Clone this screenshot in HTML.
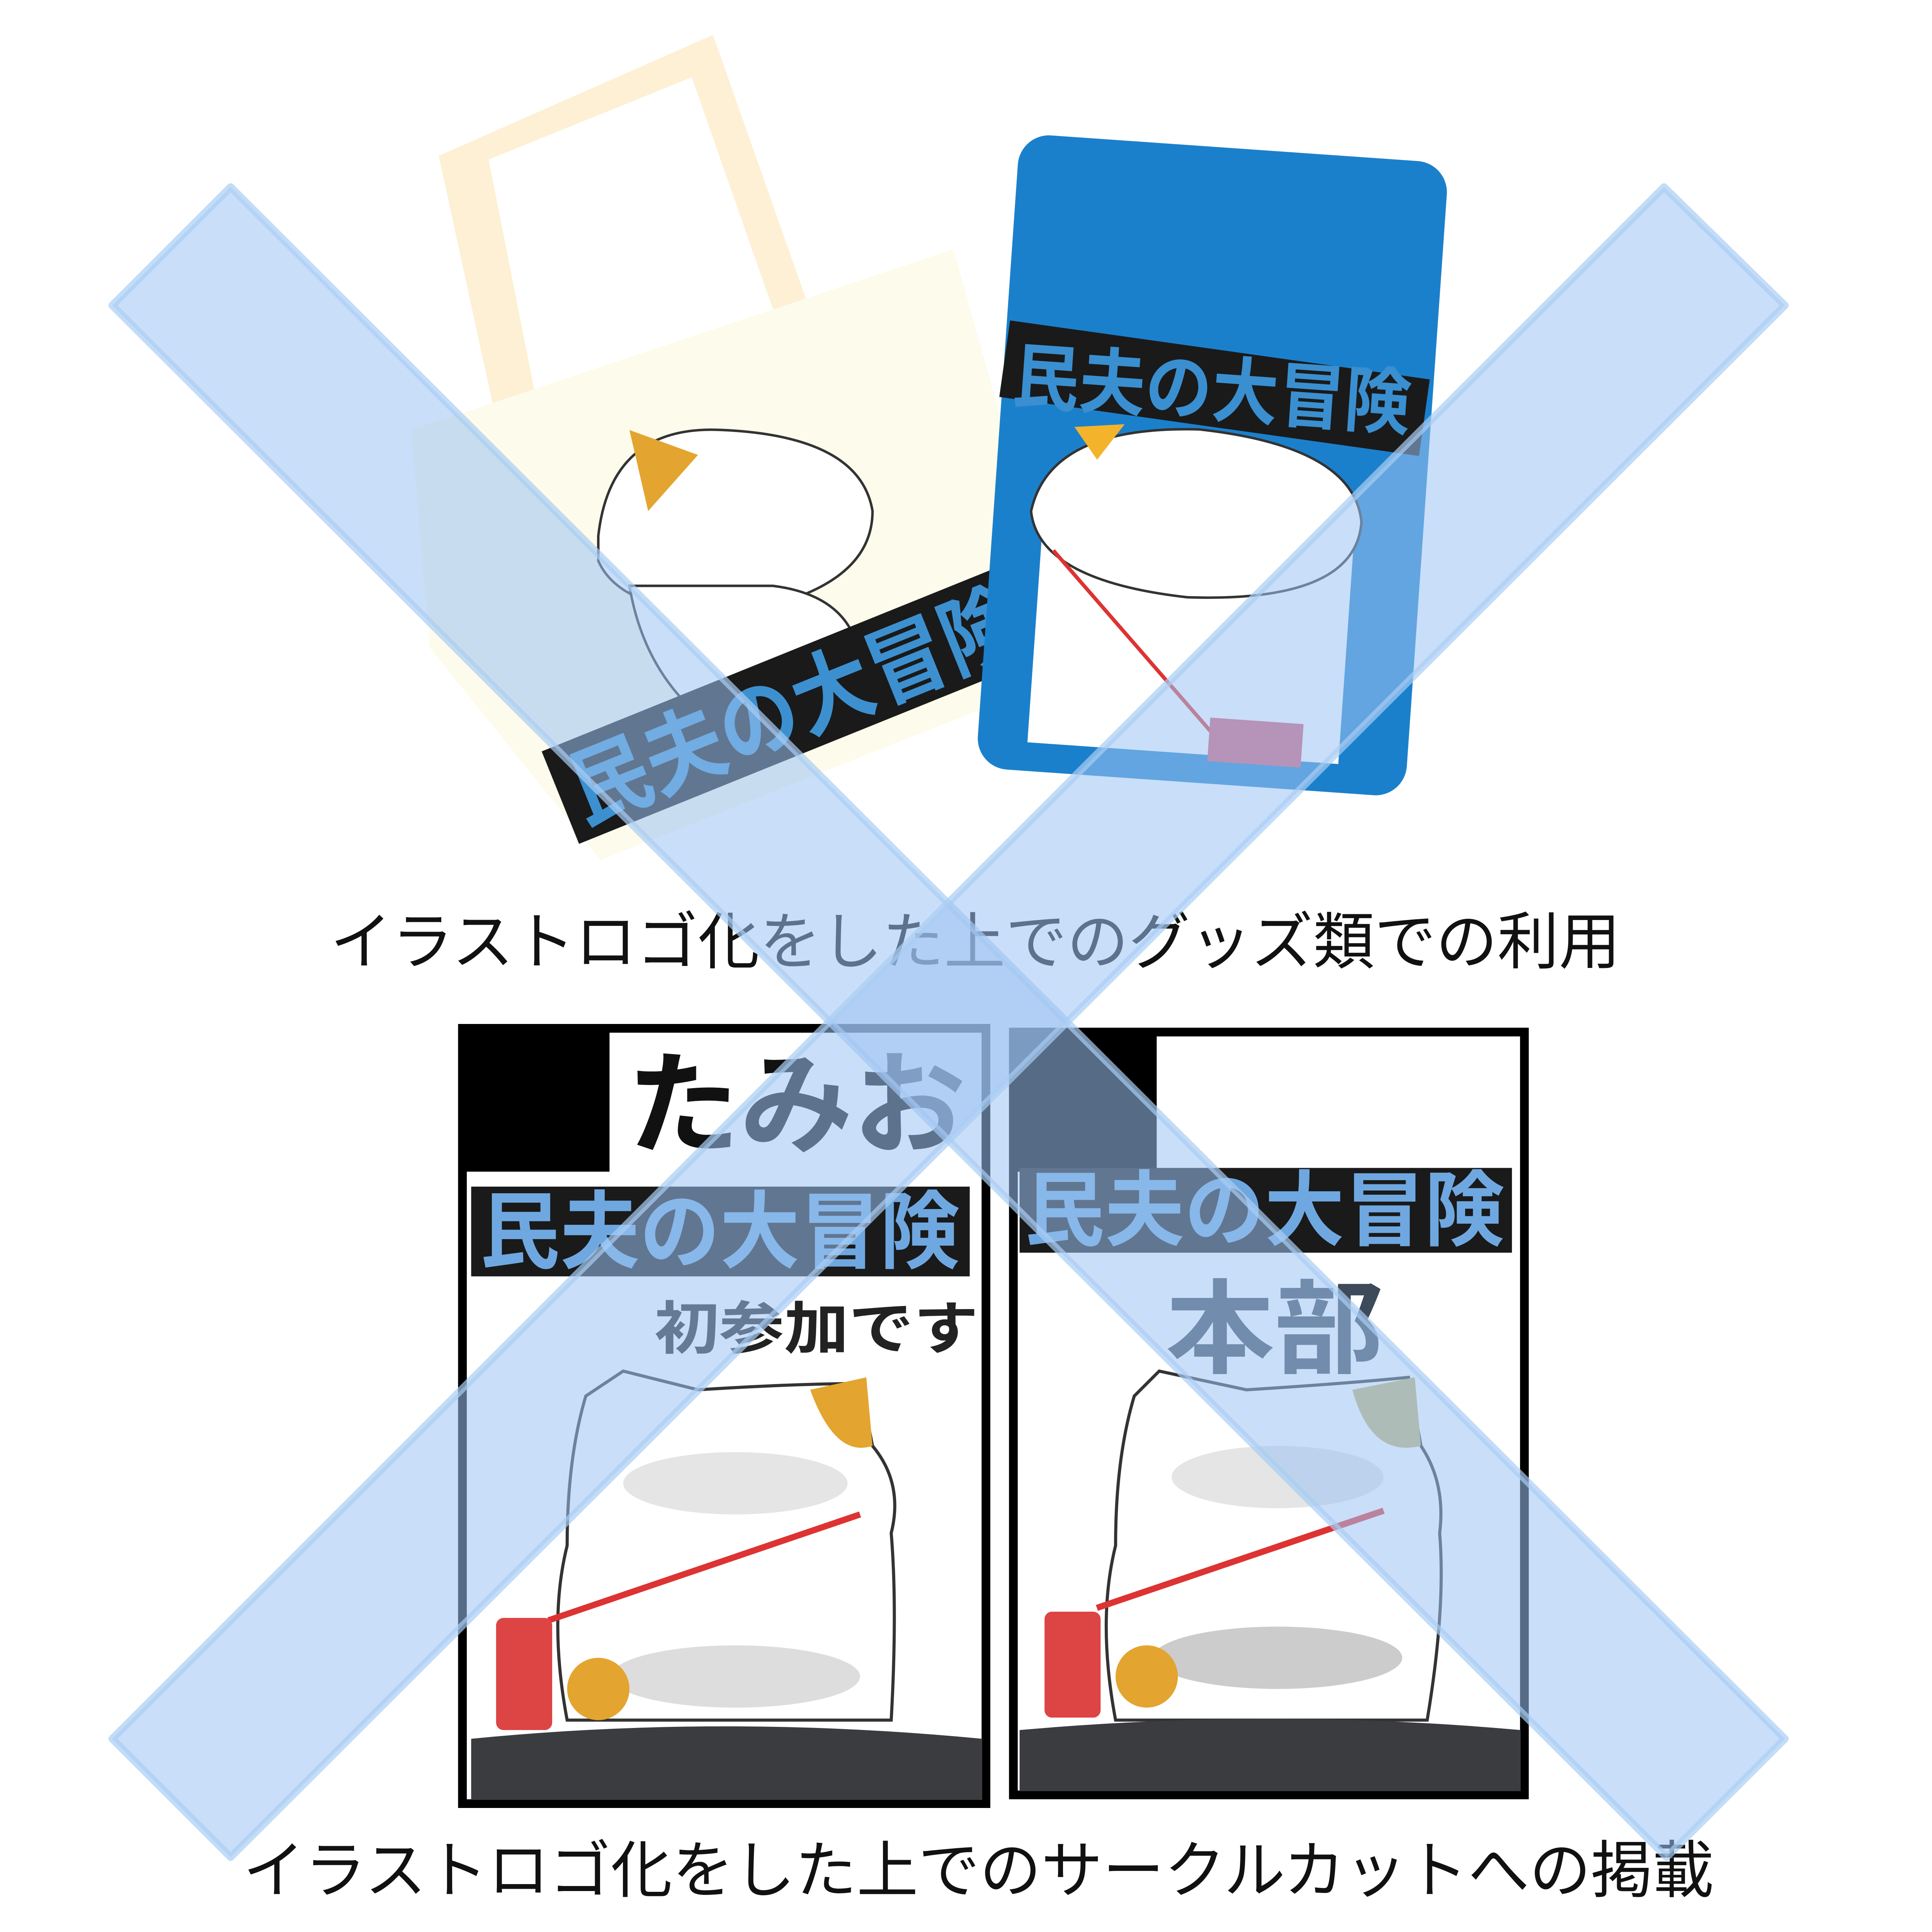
<!DOCTYPE html>
<html><head><meta charset="utf-8"><style>
html,body{margin:0;padding:0;background:#fff;overflow:hidden;}
svg{display:block;width:100vw;height:100vw}
text{font-family:"Liberation Sans","Noto Sans CJK JP",sans-serif;}
</style></head><body>
<svg viewBox="0 0 1550 1550" preserveAspectRatio="xMinYMin meet" xmlns="http://www.w3.org/2000/svg">
<rect width="1550" height="1550" fill="#fff"/>
<!-- Tote bag -->
<g>
<polygon points="352,125 572,28 652,255 625,262 555,62 392,128 435,345 402,355" fill="#fdf0d4"/>
<polygon points="330,345 765,200 860,540 482,690 345,520" fill="#fdfbeb"/>
<path d="M480,430 Q490,340 580,345 Q690,350 700,410 Q700,470 600,490 Q500,495 480,450Z" fill="#fff" stroke="#333" stroke-width="2"/>
<path d="M505,345 L560,365 L520,410Z" fill="#e3a52f"/>
<path d="M505,470 Q520,560 600,600 L690,560 Q700,480 620,470Z" fill="#fff" stroke="#333" stroke-width="2"/>
<g transform="rotate(-22 635 565)">
<rect x="435" y="525" width="405" height="80" fill="#1a1a1a"/>
<text x="445" y="592" font-size="70" font-weight="bold" fill="#3d90cf" textLength="385" lengthAdjust="spacingAndGlyphs">民夫の大冒険</text>
</g>
</g>
<!-- Blue folder -->
<g transform="rotate(4 968 375)">
<rect x="800" y="118" width="345" height="510" rx="25" fill="#1b80cc"/>
<rect x="840" y="400" width="250" height="205" fill="#fff"/>
<path d="M830,420 Q840,350 960,345 Q1085,350 1095,410 Q1095,475 960,480 Q840,475 830,420Z" fill="#fff" stroke="#333" stroke-width="2"/>
<path d="M860,350 L900,345 L880,375Z" fill="#f3b42c"/>
<path d="M850,450 L1000,600" stroke="#d33" stroke-width="3"/>
<rect x="985" y="575" width="75" height="35" fill="#d65a72"/>
<rect x="800" y="280" width="340" height="62" fill="#1a1a1a" transform="rotate(4 968 310)"/>
<text x="808" y="333" font-size="58" font-weight="bold" fill="#3a8fd0" textLength="320" lengthAdjust="spacingAndGlyphs">民夫の大冒険</text>
</g>
<!-- Caption 1 -->
<text x="265" y="773" font-size="50" fill="#111" textLength="1035" lengthAdjust="spacingAndGlyphs">イラストロゴ化をした上でのグッズ類での利用</text>
<!-- Panel 1 -->
<g>
<rect x="371" y="825" width="420" height="622" fill="#fff" stroke="#000" stroke-width="7"/>
<rect x="371" y="825" width="118" height="115" fill="#000"/>
<text x="503" y="918" font-size="90" font-weight="bold" fill="#111" textLength="272" lengthAdjust="spacingAndGlyphs">たみお</text>
<rect x="378" y="952" width="400" height="72" fill="#1a1a1a"/>
<text x="385" y="1012" font-size="68" font-weight="bold" fill="#6fa8e0" textLength="385" lengthAdjust="spacingAndGlyphs">民夫の大冒険</text>
<text x="525" y="1082" font-size="46" font-weight="bold" fill="#222" textLength="260" lengthAdjust="spacingAndGlyphs">初参加です</text>
<path d="M470,1120 L500,1100 L560,1115 Q640,1110 690,1110 L700,1160 Q725,1190 715,1230 Q720,1290 715,1380 L455,1380 Q440,1300 455,1240 Q455,1170 470,1120Z" fill="#fff" stroke="#333" stroke-width="2.5"/>
<path d="M650,1115 L695,1105 L700,1160 Q670,1170 650,1115Z" fill="#e3a52f"/>
<ellipse cx="590" cy="1190" rx="90" ry="25" fill="#e5e5e5"/>
<ellipse cx="590" cy="1345" rx="100" ry="25" fill="#ddd"/>
<path d="M440,1300 L690,1215" stroke="#d33" stroke-width="5"/>
<rect x="398" y="1298" width="45" height="90" rx="6" fill="#d44"/>
<ellipse cx="480" cy="1355" rx="25" ry="25" fill="#e3a52f"/>
<path d="M378,1395 Q580,1375 788,1395 L788,1444 L378,1444Z" fill="#3a3c40"/>
</g>
<!-- Panel 2 -->
<g>
<rect x="813" y="828" width="410" height="612" fill="#fff" stroke="#000" stroke-width="7"/>
<rect x="813" y="828" width="115" height="112" fill="#000"/>
<rect x="818" y="937" width="395" height="68" fill="#1a1a1a"/>
<text x="822" y="994" font-size="66" font-weight="bold" fill="#6fa8e0" textLength="385" lengthAdjust="spacingAndGlyphs">民夫の大冒険</text>
<text x="935" y="1095" font-size="82" font-weight="bold" fill="#3c4a5a" textLength="175" lengthAdjust="spacingAndGlyphs">本部</text>
<path d="M910,1120 L930,1100 L1000,1115 Q1080,1110 1130,1105 L1140,1160 Q1160,1190 1155,1230 Q1160,1290 1145,1380 L895,1380 Q880,1300 895,1240 Q895,1170 910,1120Z" fill="#fff" stroke="#333" stroke-width="2.5"/>
<path d="M1085,1115 L1135,1105 L1140,1160 Q1100,1170 1085,1115Z" fill="#c4b36f"/>
<ellipse cx="1025" cy="1185" rx="85" ry="25" fill="#e5e5e5"/>
<ellipse cx="1025" cy="1330" rx="100" ry="25" fill="#ccc"/>
<path d="M880,1290 L1110,1212" stroke="#d33" stroke-width="5"/>
<rect x="838" y="1293" width="45" height="85" rx="6" fill="#d44"/>
<ellipse cx="920" cy="1345" rx="25" ry="25" fill="#e3a52f"/>
<path d="M818,1388 Q1020,1370 1220,1388 L1220,1437 L818,1437Z" fill="#3a3c40"/>
</g>
<!-- Caption 2 -->
<text x="195" y="1518" font-size="50" fill="#111" textLength="1180" lengthAdjust="spacingAndGlyphs">イラストロゴ化をした上でのサークルカットへの掲載</text>
<!-- Big X -->
<g fill="#9cc3f2" fill-opacity="0.55" stroke="#aacdf3" stroke-opacity="0.7" stroke-width="6" stroke-linejoin="round">
<polygon points="90,245 185,150 1432,1395 1337,1490"/>
<polygon points="1335,150 1432,245 185,1490 90,1395"/>
</g>
</svg>
</body></html>
